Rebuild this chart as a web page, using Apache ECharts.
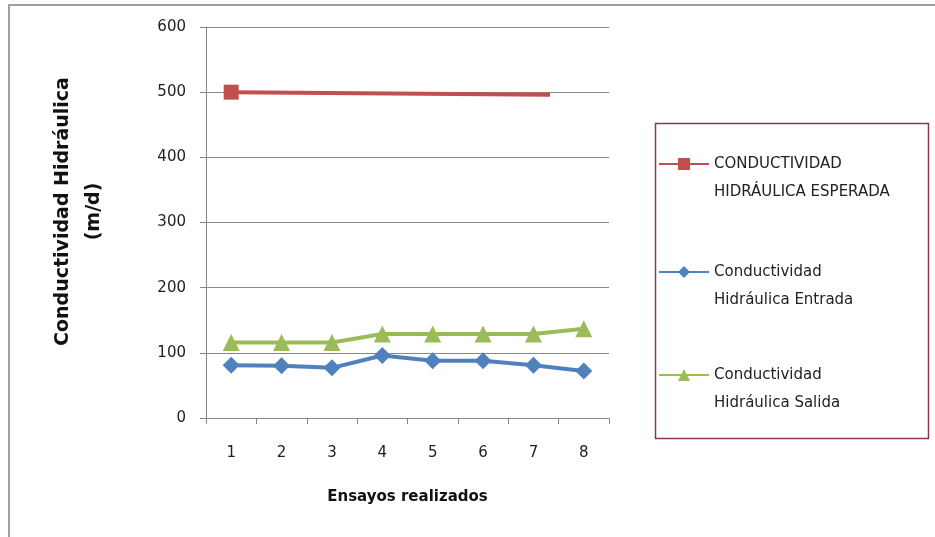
<!DOCTYPE html>
<html>
<head>
<meta charset="utf-8">
<script src="https://cdn.jsdelivr.net/npm/echarts@6/dist/echarts.min.js"></script>
<style>html,body{margin:0;padding:0;background:#fff}#c{width:935px;height:537px}</style>
</head>
<body>
<div id="c"></div>
<script>
const categories = ['1','2','3','4','5','6','7','8'];
const entrada = [81, 80, 77, 96, 88, 88, 81, 72];
const salida = [116, 116, 116, 129, 129, 129, 129, 137];
const esperadaX = [1, 7.33];
const esperadaY = [500, 496];
const yTicks = {min: 0, max: 600, interval: 100};
const names = ['CONDUCTIVIDAD\nHIDRÁULICA ESPERADA', 'Conductividad\nHidráulica Entrada', 'Conductividad\nHidráulica Salida'];

const FONT = 'DejaVu Sans';
const chart = echarts.init(document.getElementById('c'), null, {renderer: 'canvas'});
const legendText = {fontFamily: FONT, fontSize: 15, color: '#222', lineHeight: 28};
const mkLegend = (name, top) => ({
  data: [name], left: 653, top: top, orient: 'vertical', itemWidth: 50, itemHeight: 15,
  itemGap: 4, textStyle: legendText, selectedMode: false,
  formatter: n => ' \n' + n
});
chart.setOption({
  animation: false,
  backgroundColor: '#fff',
  grid: {left: 206, top: 27, right: 326, bottom: 119, containLabel: false},
  graphic: [
    {type: 'rect', shape: {x: 9, y: 5, width: 2000, height: 2000}, style: {fill: 'none', stroke: '#a0a0a0', lineWidth: 2}, silent: true},
    {type: 'rect', shape: {x: 655.5, y: 123.5, width: 273, height: 315}, style: {fill: 'none', stroke: '#8a3a4a', lineWidth: 1.5}, silent: true}
  ],
  legend: [
    mkLegend(names[0], 117),
    mkLegend(names[1], 225),
    mkLegend(names[2], 328)
  ],
  xAxis: [{
    type: 'category', data: categories, boundaryGap: true,
    name: 'Ensayos realizados', nameLocation: 'middle', nameGap: 72,
    nameTextStyle: {fontFamily: FONT, fontSize: 15, fontWeight: 'bold', color: '#111'},
    axisLine: {lineStyle: {color: '#868686', width: 1}},
    axisTick: {show: true, alignWithLabel: false, length: 6, lineStyle: {color: '#868686'}},
    axisLabel: {fontFamily: FONT, fontSize: 15, color: '#222', margin: 28},
    splitLine: {show: false}
  }, {
    type: 'value', min: 0.5, max: 8.5, show: false
  }],
  yAxis: {
    type: 'value', min: yTicks.min, max: yTicks.max, interval: yTicks.interval,
    name: 'Conductividad Hidráulica\n(m/d)', nameLocation: 'middle', nameGap: 96, nameRotate: 90,
    nameTextStyle: {fontFamily: FONT, fontSize: 19, fontWeight: 'bold', color: '#111', lineHeight: 31, padding: [0, 0, 0, 22]},
    axisLine: {show: true, lineStyle: {color: '#868686', width: 1}},
    axisTick: {show: true, length: 6, lineStyle: {color: '#868686'}},
    axisLabel: {fontFamily: FONT, fontSize: 15, color: '#222', margin: 20},
    splitLine: {show: true, lineStyle: {color: '#868686', width: 1}}
  },
  series: [
    {
      name: names[0], type: 'line', xAxisIndex: 1,
      data: esperadaX.map((x, i) => i === 0 ? [x, esperadaY[i]] : {value: [x, esperadaY[i]], symbol: 'none'}),
      symbol: 'rect', symbolSize: 15, showAllSymbol: true,
      lineStyle: {color: '#C0504D', width: 4}, itemStyle: {color: '#C0504D'}
    },
    {
      name: names[1], type: 'line', data: entrada,
      symbol: 'diamond', symbolSize: 17, showAllSymbol: true,
      lineStyle: {color: '#4F81BD', width: 4}, itemStyle: {color: '#4F81BD'}
    },
    {
      name: names[2], type: 'line', data: salida,
      symbol: 'triangle', symbolSize: 17, showAllSymbol: true,
      lineStyle: {color: '#9BBB59', width: 4}, itemStyle: {color: '#9BBB59'}
    }
  ]
});
</script>
</body>
</html>
